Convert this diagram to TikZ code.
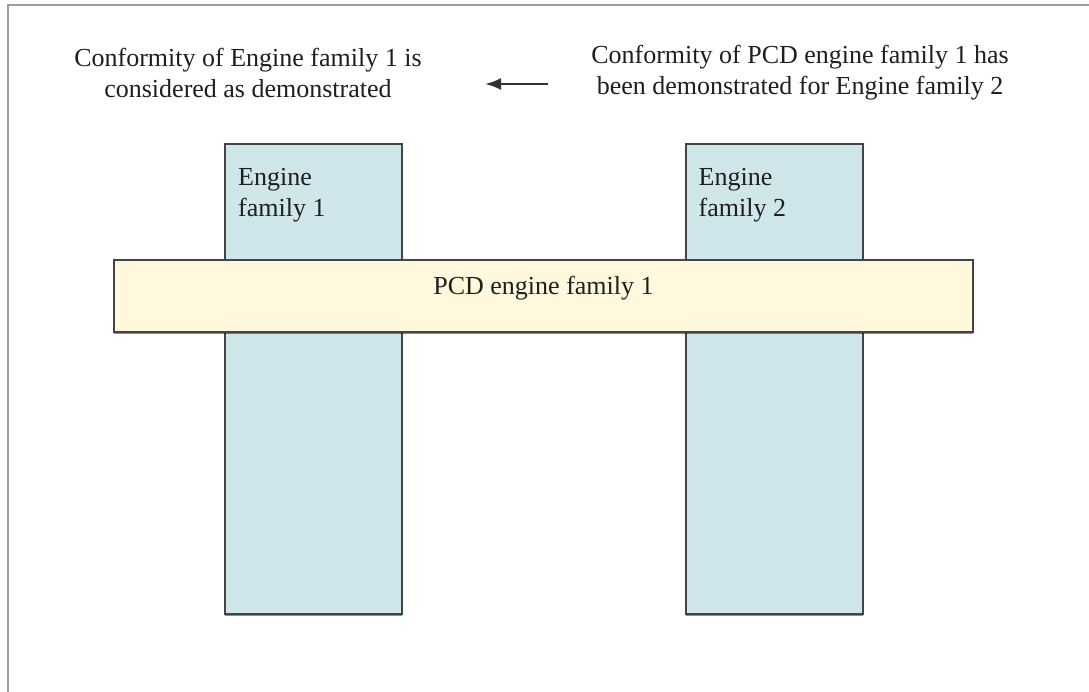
\documentclass[tikz,border=0pt]{standalone}
\usepackage{fontspec}
\setmainfont{Liberation Serif}
\usetikzlibrary{arrows.meta,shadows,calc}
\definecolor{famblue}{HTML}{CFE6EA}
\definecolor{pcdyellow}{HTML}{FFF8DC}
\definecolor{edgegray}{HTML}{444444}
\definecolor{framegray}{HTML}{9C9C9C}
\tikzset{
  bigfont/.style={font=\fontsize{26}{31}\selectfont, text=black!88},
  famcol/.style={draw=edgegray, line width=2pt, fill=famblue,
    minimum width=177, minimum height=470, inner sep=0pt,
    drop shadow={shadow xshift=0pt, shadow yshift=-2pt, opacity=.45, fill=black}},
  pcdbar/.style={draw=edgegray, line width=2pt, fill=pcdyellow,
    minimum width=859, minimum height=72, inner sep=0pt,
    drop shadow={shadow xshift=0pt, shadow yshift=-2pt, opacity=.45, fill=black}},
  boxtext/.style={bigfont, align=left, anchor=north west, inner sep=0pt},
  caption/.style={bigfont, align=center, inner sep=0pt},
  arr/.style={draw=black!80, line width=2.2pt, -{Latex[length=16pt,width=12pt]}},
}
\def\drawFamily#1#2{
\node[famcol] (fam#1) at (#2,379) {};
\node[boxtext] (lab#1) at ($(fam#1.north west)+(14,25)$) {Engine\\family #1};
}

\begin{document}
\begin{tikzpicture}[x=1pt,y=-1pt]
  \useasboundingbox[fill=white] (0,0) rectangle (1089,692);
  \draw[framegray, line width=2pt] (7.5,692) -- (7.5,5.5) -- (1089,5.5);
  \node[caption] (conf1) at (248,73) {Conformity of Engine family 1 is\\considered as demonstrated};
  \node[caption] (conf2) at (800,73) {Conformity of PCD engine family 1 has\\been demonstrated for Engine family 2};
  \coordinate (tail) at (548,84);
  \coordinate (tip) at (485,84);
  \draw[arr] (tail) -- (tip);
  \drawFamily{1}{313.5}
  \drawFamily{2}{774}
  \node[pcdbar] (pcd) at (543.5,296) {};
  \node[bigfont, anchor=base, inner sep=0pt] (pcdlab) at ($(pcd.north)+(0,36)$) {PCD engine family 1};
\end{tikzpicture}
\end{document}
